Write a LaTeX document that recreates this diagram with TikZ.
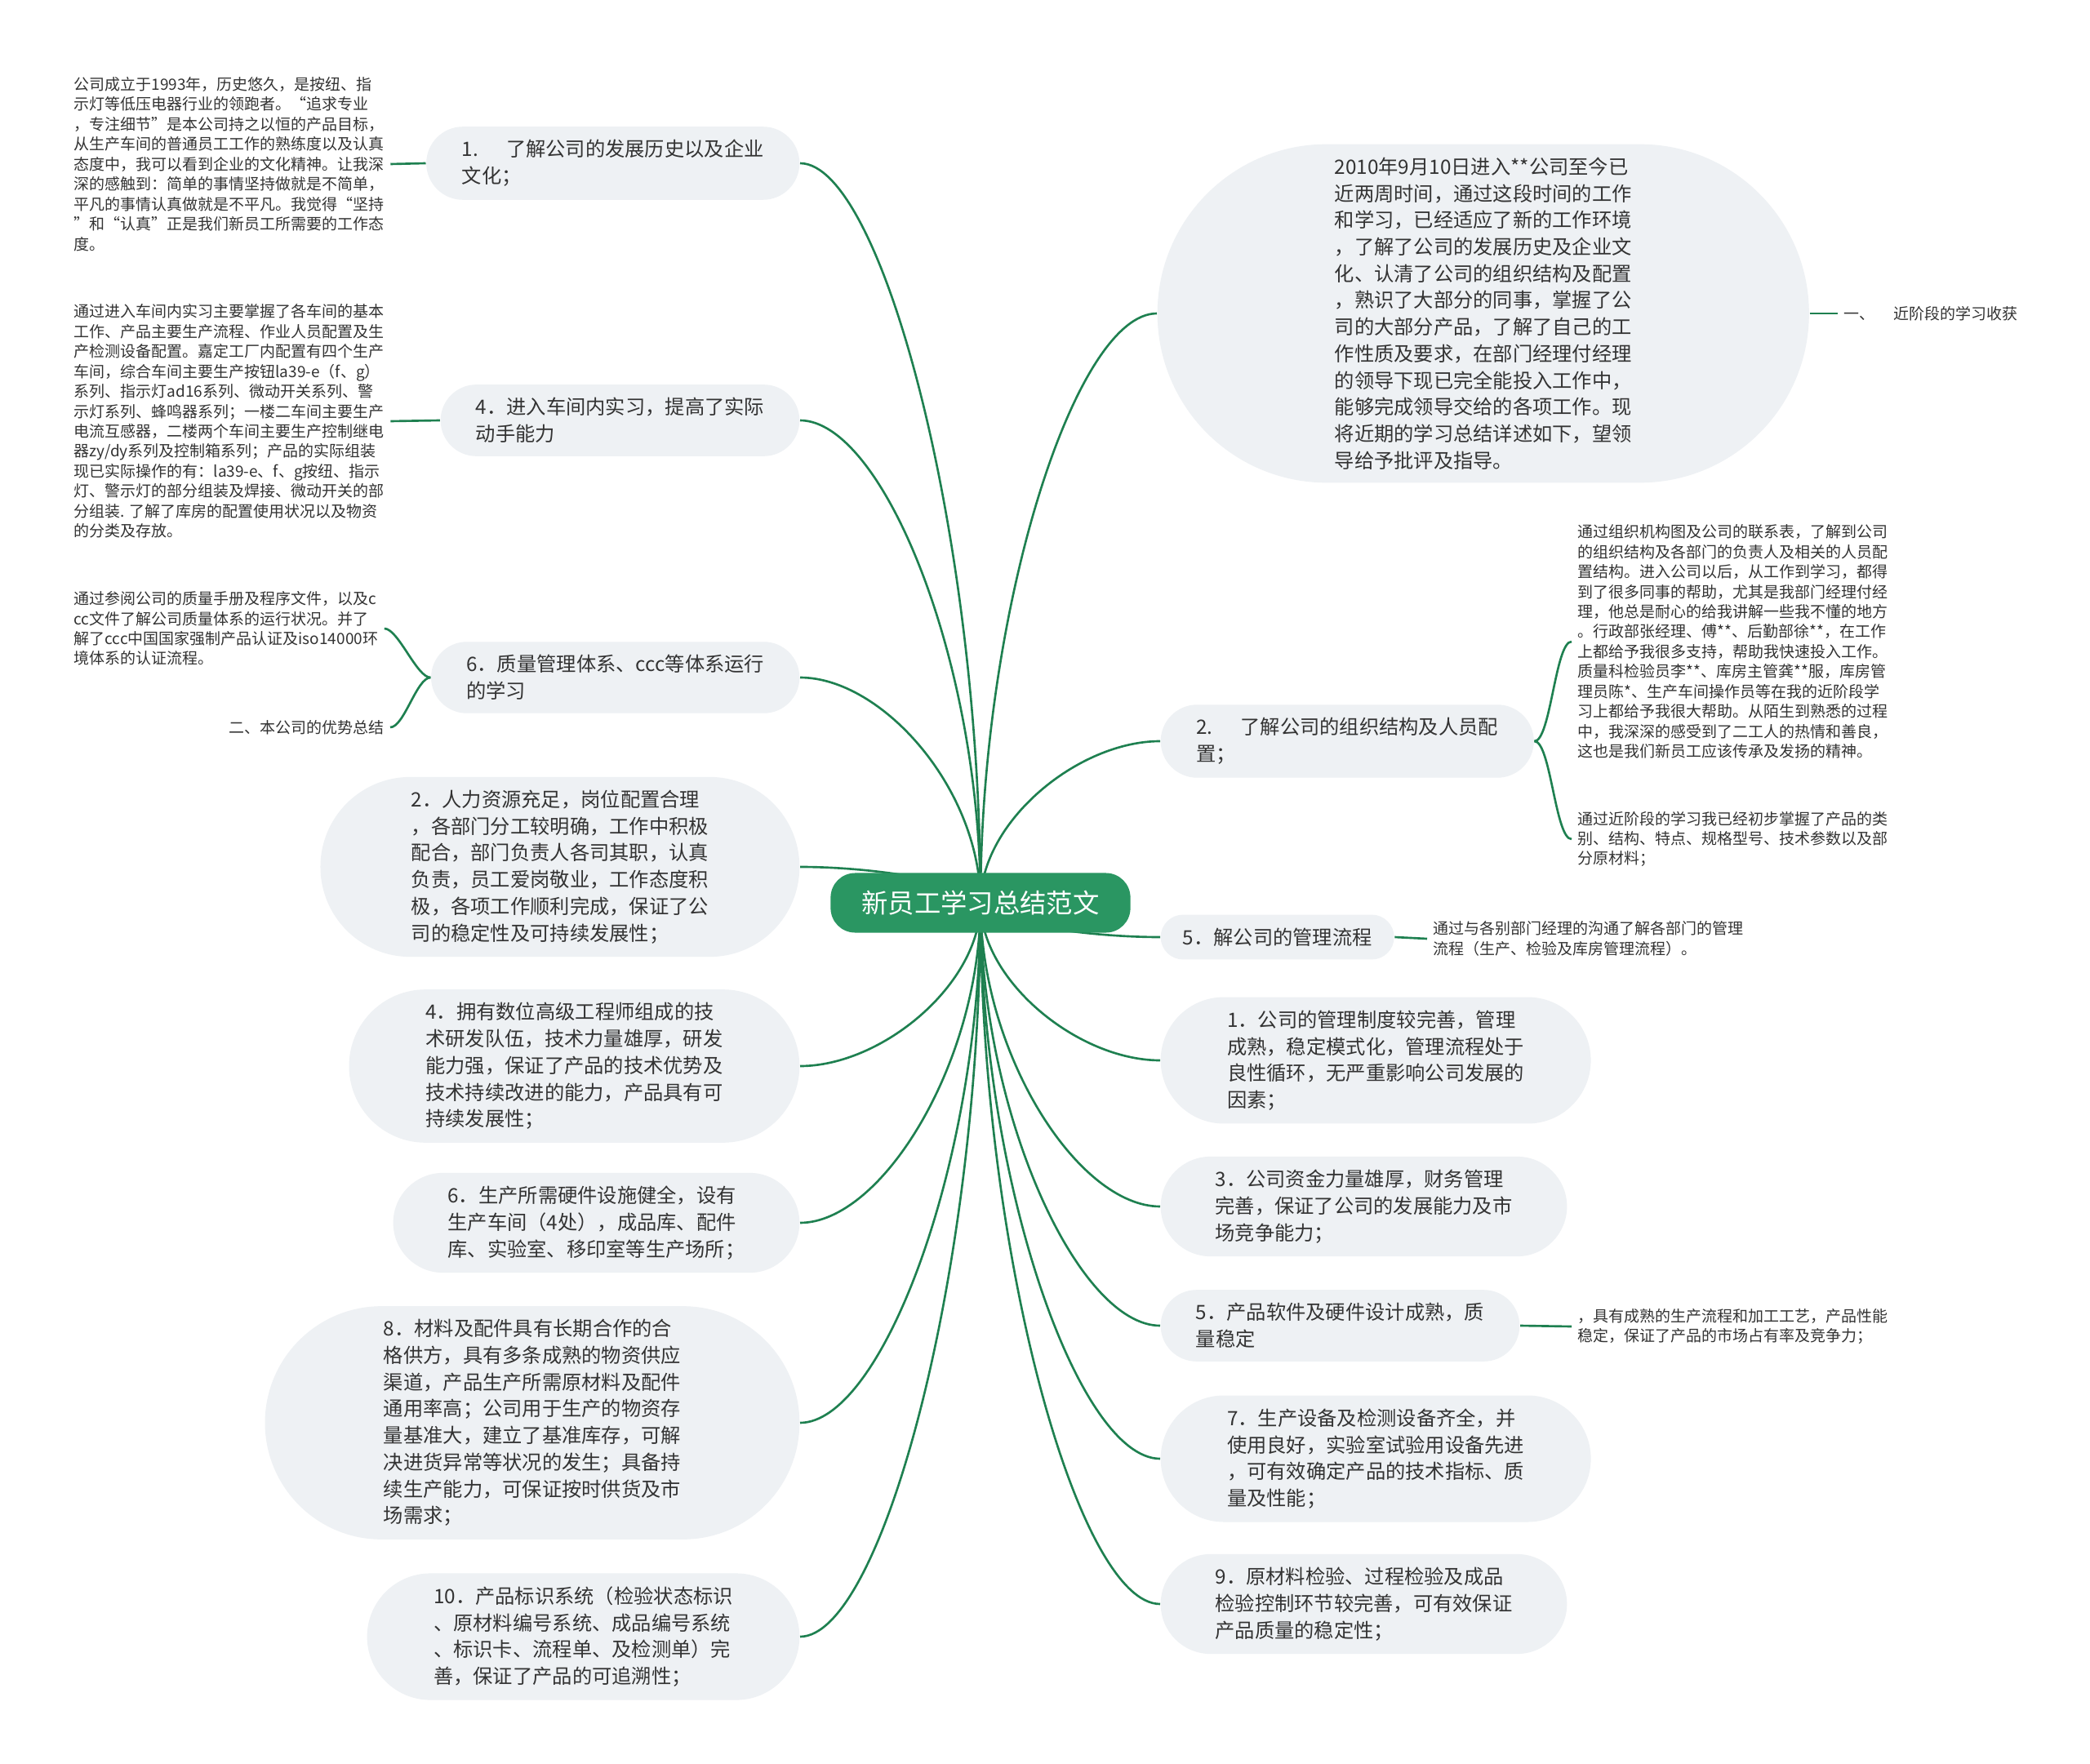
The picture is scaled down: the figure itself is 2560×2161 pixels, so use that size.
\documentclass[tikz,border=0pt]{standalone}
\usepackage{fontspec}
\setmainfont{Noto Sans CJK SC}
\usetikzlibrary{shapes.misc,backgrounds}
\definecolor{mapgreen}{RGB}{42,150,98}
\definecolor{linegreen}{RGB}{30,128,80}
\definecolor{boxgray}{RGB}{238,241,244}
\definecolor{textgray}{RGB}{51,51,51}

\begin{document}
\begin{tikzpicture}[x=0.01cm, y=-0.01cm,
	topic/.style={rectangle, rounded corners=0.3cm, fill=mapgreen, text=white,
		minimum width=3.67cm, minimum height=0.73cm, font=\fontsize{9.2}{11}\selectfont},
	branch/.style={rounded rectangle, fill=boxgray, text=textgray, align=left,
		inner xsep=#1, inner ysep=4.6pt, font=\fontsize{6.9}{9.3}\selectfont},
	branch/.default=9.5pt,
	note/.style={align=left, text=textgray, inner sep=2pt, font=\fontsize{5.4}{6.95}\selectfont},
	edge/.style={draw=linegreen, line width=0.75pt}]
	\useasboundingbox (0,0) rectangle (2560,2161);
	% center topic
	\node[topic] (root) at (1201,1106) {新员工学习总结范文};
	% left branches
	\node[branch, anchor=east] (history) at (980,200) {1.\hspace{1.4em}了解公司的发展历史以及企业\\文化；};
	\node[branch, anchor=east] (workshop) at (980,515) {4．进入车间内实习，提高了实际\\动手能力};
	\node[branch, anchor=east] (quality) at (980,830) {6．质量管理体系、ccc等体系运行\\的学习};
	\node[branch=16.7pt, anchor=east] (staff) at (980,1062) {2．人力资源充足，岗位配置合理\\，各部门分工较明确，工作中积极\\配合，部门负责人各司其职，认真\\负责，员工爱岗敬业，工作态度积\\极，各项工作顺利完成，保证了公\\司的稳定性及可持续发展性；};
	\node[branch=15pt, anchor=east] (research) at (980,1306) {4．拥有数位高级工程师组成的技\\术研发队伍，技术力量雄厚，研发\\能力强，保证了产品的技术优势及\\技术持续改进的能力，产品具有可\\持续发展性；};
	\node[branch=13.4pt, anchor=east] (facility) at (980,1498) {6．生产所需硬件设施健全，设有\\生产车间（4处），成品库、配件\\库、实验室、移印室等生产场所；};
	\node[branch=19.5pt, anchor=east] (supply) at (980,1743) {8．材料及配件具有长期合作的合\\格供方，具有多条成熟的物资供应\\渠道，产品生产所需原材料及配件\\通用率高；公司用于生产的物资存\\量基准大，建立了基准库存，可解\\决进货异常等状况的发生；具备持\\续生产能力，可保证按时供货及市\\场需求；};
	\node[branch=14.6pt, anchor=east] (marking) at (980,2005) {10．产品标识系统（检验状态标识\\、原材料编号系统、成品编号系统\\、标识卡、流程单、及检测单）完\\善，保证了产品的可追溯性；};
	% right branches
	\node[branch=25.6pt, anchor=west] (intro) at (1417,384) {2010年9月10日进入**公司至今已\\近两周时间，通过这段时间的工作\\和学习，已经适应了新的工作环境\\，了解了公司的发展历史及企业文\\化、认清了公司的组织结构及配置\\，熟识了大部分的同事，掌握了公\\司的大部分产品，了解了自己的工\\作性质及要求，在部门经理付经理\\的领导下现已完全能投入工作中，\\能够完成领导交给的各项工作。现\\将近期的学习总结详述如下，望领\\导给予批评及指导。};
	\node[branch, anchor=west] (organize) at (1421,908) {2.\hspace{1.4em}了解公司的组织结构及人员配\\置；};
	\node[branch=7pt, anchor=west] (process) at (1421,1148) {5．解公司的管理流程};
	\node[branch=14.6pt, anchor=west] (system) at (1421,1299) {1．公司的管理制度较完善，管理\\成熟，稳定模式化，管理流程处于\\良性循环，无严重影响公司发展的\\因素；};
	\node[branch=13.4pt, anchor=west] (finance) at (1421,1478) {3．公司资金力量雄厚，财务管理\\完善，保证了公司的发展能力及市\\场竞争能力；};
	\node[branch, anchor=west] (design) at (1421,1624) {5．产品软件及硬件设计成熟，质\\量稳定};
	\node[branch=14.6pt, anchor=west] (equip) at (1421,1787) {7．生产设备及检测设备齐全，并\\使用良好，实验室试验用设备先进\\，可有效确定产品的技术指标、质\\量及性能；};
	\node[branch=13.4pt, anchor=west] (inspect) at (1421,1965) {9．原材料检验、过程检验及成品\\检验控制环节较完善，可有效保证\\产品质量的稳定性；};
	% notes
	\node[note, anchor=west] (historytxt) at (83,201) {公司成立于1993年，历史悠久，是按纽、指\\示灯等低压电器行业的领跑者。“追求专业\\，专注细节”是本公司持之以恒的产品目标，\\从生产车间的普通员工工作的熟练度以及认真\\态度中，我可以看到企业的文化精神。让我深\\深的感触到：简单的事情坚持做就是不简单，\\平凡的事情认真做就是不平凡。我觉得“坚持\\”和“认真”正是我们新员工所需要的工作态\\度。};
	\node[note, anchor=west] (workshoptxt) at (83,516) {通过进入车间内实习主要掌握了各车间的基本\\工作、产品主要生产流程、作业人员配置及生\\产检测设备配置。嘉定工厂内配置有四个生产\\车间，综合车间主要生产按钮la39-e（f、g）\\系列、指示灯ad16系列、微动开关系列、警\\示灯系列、蜂鸣器系列；一楼二车间主要生产\\电流互感器，二楼两个车间主要生产控制继电\\器zy/dy系列及控制箱系列；产品的实际组装\\现已实际操作的有：la39-e、f、g按纽、指示\\灯、警示灯的部分组装及焊接、微动开关的部\\分组装. 了解了库房的配置使用状况以及物资\\的分类及存放。};
	\node[note, anchor=west] (qualitytxt) at (83,770) {通过参阅公司的质量手册及程序文件，以及c\\cc文件了解公司质量体系的运行状况。并了\\解了ccc中国国家强制产品认证及iso14000环\\境体系的认证流程。};
	\node[note, anchor=east] (advantage) at (478,891) {二、本公司的优势总结};
	\node[note, anchor=west] (harvest) at (2251,384) {一、\hspace{1.2em}近阶段的学习收获};
	\node[note, anchor=west] (organizetxt) at (1925,786) {通过组织机构图及公司的联系表，了解到公司\\的组织结构及各部门的负责人及相关的人员配\\置结构。进入公司以后，从工作到学习，都得\\到了很多同事的帮助，尤其是我部门经理付经\\理，他总是耐心的给我讲解一些我不懂的地方\\。行政部张经理、傅**、后勤部徐**，在工作\\上都给予我很多支持，帮助我快速投入工作。\\质量科检验员李**、库房主管龚**服，库房管\\理员陈*、生产车间操作员等在我的近阶段学\\习上都给予我很大帮助。从陌生到熟悉的过程\\中，我深深的感受到了二工人的热情和善良，\\这也是我们新员工应该传承及发扬的精神。};
	\node[note, anchor=west] (producttxt) at (1925,1028) {通过近阶段的学习我已经初步掌握了产品的类\\别、结构、特点、规格型号、技术参数以及部\\分原材料；};
	\node[note, anchor=west] (processtxt) at (1748,1150) {通过与各别部门经理的沟通了解各部门的管理\\流程（生产、检验及库房管理流程）。};
	\node[note, anchor=west] (designtxt) at (1925,1625) {，具有成熟的生产流程和加工工艺，产品性能\\稳定，保证了产品的市场占有率及竞争力；};
	% connectors
	\begin{pgfonlayer}{background}
		\fill[white] (0,0) rectangle (2560,2161);
		\draw[edge] (root.center) .. controls +(0,-450) and +(100,0) .. (history.east);
		\draw[edge] (root.center) .. controls +(0,-300) and +(100,0) .. (workshop.east);
		\draw[edge] (root.center) .. controls +(0,-140) and +(100,0) .. (quality.east);
		\draw[edge] (root.center) .. controls +(0,-22) and +(100,0) .. (staff.east);
		\draw[edge] (root.center) .. controls +(0,100) and +(100,0) .. (research.east);
		\draw[edge] (root.center) .. controls +(0,196) and +(100,0) .. (facility.east);
		\draw[edge] (root.center) .. controls +(0,318) and +(100,0) .. (supply.east);
		\draw[edge] (root.center) .. controls +(0,450) and +(100,0) .. (marking.east);
		\draw[edge] (root.center) .. controls +(0,-360) and +(-100,0) .. (intro.west);
		\draw[edge] (root.center) .. controls +(0,-100) and +(-100,0) .. (organize.west);
		\draw[edge] (root.center) .. controls +(0,21) and +(-100,0) .. (process.west);
		\draw[edge] (root.center) .. controls +(0,96) and +(-100,0) .. (system.west);
		\draw[edge] (root.center) .. controls +(0,186) and +(-100,0) .. (finance.west);
		\draw[edge] (root.center) .. controls +(0,259) and +(-100,0) .. (design.west);
		\draw[edge] (root.center) .. controls +(0,340) and +(-100,0) .. (equip.west);
		\draw[edge] (root.center) .. controls +(0,430) and +(-100,0) .. (inspect.west);
	\end{pgfonlayer}
	\draw[edge] (history.west) -- (historytxt.east);
	\draw[edge] (workshop.west) -- (workshoptxt.east);
	\draw[edge] (quality.west) .. controls +(-17,0) and +(17,0) .. (qualitytxt.east);
	\draw[edge] (quality.west) .. controls +(-17,0) and +(17,0) .. (advantage.east);
	\draw[edge] (intro.east) -- (harvest.west);
	\draw[edge] (organize.east) .. controls +(20,0) and +(-20,0) .. (organizetxt.west);
	\draw[edge] (organize.east) .. controls +(20,0) and +(-20,0) .. (producttxt.west);
	\draw[edge] (process.east) -- (processtxt.west);
	\draw[edge] (design.east) -- (designtxt.west);
\end{tikzpicture}
\end{document}
